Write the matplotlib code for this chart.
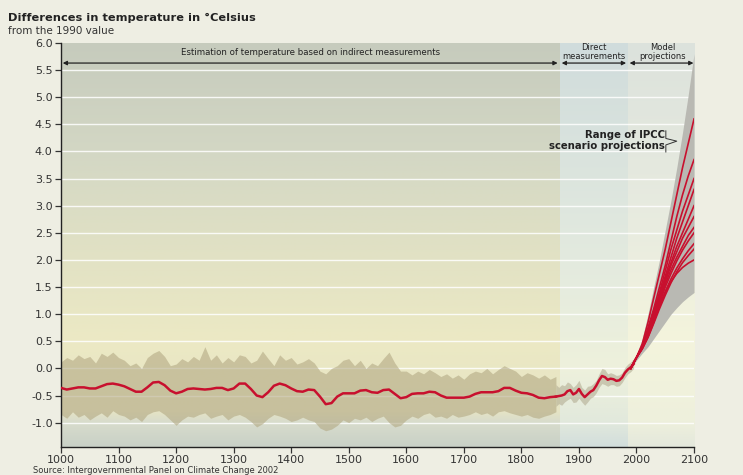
import numpy as np
import matplotlib
matplotlib.use("Agg")
import matplotlib.pyplot as plt
from matplotlib.colors import LinearSegmentedColormap

# smoothed reconstruction (proxy data), every 10 years
recon_years = list(range(1000, 1870, 10))
recon_temp = [-0.36, -0.39, -0.37, -0.35, -0.35, -0.37, -0.37, -0.33, -0.29, -0.28,
              -0.30, -0.33, -0.38, -0.43, -0.43, -0.35, -0.26, -0.25, -0.31, -0.41,
              -0.46, -0.43, -0.38, -0.37, -0.38, -0.39, -0.38, -0.36, -0.36, -0.40,
              -0.37, -0.28, -0.28, -0.38, -0.50, -0.53, -0.44, -0.32, -0.28, -0.31,
              -0.37, -0.42, -0.43, -0.39, -0.40, -0.52, -0.66, -0.64, -0.52, -0.46,
              -0.46, -0.46, -0.41, -0.40, -0.44, -0.45, -0.40, -0.39, -0.47, -0.55,
              -0.53, -0.47, -0.46, -0.46, -0.43, -0.44, -0.50, -0.54, -0.54, -0.54,
              -0.54, -0.52, -0.47, -0.44, -0.44, -0.44, -0.42, -0.36, -0.36, -0.41,
              -0.45, -0.46, -0.49, -0.54, -0.55, -0.53, -0.52]
recon_hi = [0.12, 0.20, 0.15, 0.25, 0.18, 0.22, 0.10, 0.28, 0.22, 0.30,
            0.20, 0.15, 0.05, 0.10, 0.00, 0.20, 0.28, 0.33, 0.22, 0.05,
            0.08, 0.18, 0.12, 0.22, 0.15, 0.40, 0.15, 0.25, 0.10, 0.20,
            0.12, 0.25, 0.22, 0.10, 0.15, 0.32, 0.18, 0.05, 0.25, 0.15,
            0.20, 0.08, 0.12, 0.18, 0.10, -0.05, -0.10, 0.00, 0.05, 0.15,
            0.18, 0.05, 0.15, 0.00, 0.10, 0.05, 0.18, 0.30, 0.10, -0.05,
            -0.05, -0.12, -0.05, -0.10, -0.02, -0.08, -0.15, -0.10, -0.18, -0.12,
            -0.20, -0.10, -0.05, -0.08, 0.00, -0.10, -0.02, 0.05, 0.00, -0.05,
            -0.15, -0.08, -0.12, -0.18, -0.12, -0.20, -0.15]
recon_lo = [-0.85, -0.92, -0.80, -0.90, -0.85, -0.95, -0.88, -0.82, -0.90, -0.78,
            -0.85, -0.88, -0.95, -0.90, -0.98, -0.85, -0.80, -0.78, -0.85, -0.95,
            -1.05, -0.95, -0.88, -0.90, -0.85, -0.82, -0.92, -0.88, -0.85, -0.95,
            -0.88, -0.85, -0.90, -0.98, -1.08, -1.02, -0.92, -0.85, -0.88, -0.92,
            -0.98, -0.95, -0.90, -0.95, -0.98, -1.10, -1.15, -1.12, -1.05, -0.95,
            -1.00, -0.92, -0.95, -0.90, -0.98, -0.92, -0.88, -1.00, -1.08, -1.05,
            -0.95, -0.88, -0.92, -0.85, -0.82, -0.90, -0.88, -0.92, -0.85, -0.90,
            -0.88, -0.85, -0.80, -0.85, -0.82, -0.88, -0.80, -0.78, -0.82, -0.85,
            -0.88, -0.85, -0.90, -0.92, -0.88, -0.85, -0.80]

# direct (thermometer) measurements, every 5 years
instr_years = list(range(1860, 2000, 5))
instr_temp = [-0.52, -0.51, -0.50, -0.48, -0.42, -0.40, -0.48, -0.45, -0.38, -0.47,
              -0.53, -0.48, -0.43, -0.40, -0.32, -0.22, -0.14, -0.16, -0.21, -0.19,
              -0.20, -0.23, -0.22, -0.17, -0.08, -0.02, 0.02, 0.08]
instr_hi = [-0.30, -0.35, -0.30, -0.32, -0.25, -0.28, -0.35, -0.30, -0.22, -0.35,
            -0.40, -0.33, -0.32, -0.28, -0.22, -0.10, 0.00, -0.02, -0.10, -0.08,
            -0.10, -0.13, -0.12, -0.08, 0.02, 0.08, 0.12, 0.18]
instr_lo = [-0.70, -0.65, -0.68, -0.62, -0.58, -0.55, -0.63, -0.62, -0.55, -0.62,
            -0.68, -0.62, -0.55, -0.52, -0.45, -0.35, -0.28, -0.30, -0.33, -0.30,
            -0.30, -0.33, -0.32, -0.26, -0.17, -0.10, -0.06, 0.00]

# IPCC scenario projections, every 10 years from 1990
proj_years = list(range(1990, 2110, 10))
scenarios = [
    [0.0, 0.20, 0.45, 0.85, 1.30, 1.75, 2.20, 2.70, 3.20, 3.70, 4.15, 4.60],
    [0.0, 0.20, 0.42, 0.75, 1.10, 1.50, 1.90, 2.35, 2.80, 3.20, 3.55, 3.85],
    [0.0, 0.20, 0.40, 0.70, 1.05, 1.40, 1.80, 2.20, 2.55, 2.90, 3.20, 3.50],
    [0.0, 0.20, 0.40, 0.68, 1.00, 1.35, 1.70, 2.05, 2.40, 2.70, 3.00, 3.30],
    [0.0, 0.20, 0.40, 0.65, 0.95, 1.30, 1.65, 1.95, 2.25, 2.50, 2.75, 3.00],
    [0.0, 0.20, 0.38, 0.62, 0.92, 1.25, 1.60, 1.90, 2.15, 2.40, 2.60, 2.80],
    [0.0, 0.20, 0.38, 0.60, 0.90, 1.22, 1.55, 1.82, 2.05, 2.25, 2.45, 2.60],
    [0.0, 0.20, 0.37, 0.60, 0.88, 1.20, 1.50, 1.75, 1.98, 2.18, 2.35, 2.50],
    [0.0, 0.20, 0.36, 0.58, 0.85, 1.15, 1.42, 1.65, 1.85, 2.02, 2.17, 2.30],
    [0.0, 0.20, 0.36, 0.57, 0.83, 1.10, 1.35, 1.58, 1.78, 1.95, 2.08, 2.20],
    [0.0, 0.20, 0.38, 0.60, 0.88, 1.15, 1.40, 1.60, 1.75, 1.86, 1.94, 2.00],
]
env_hi = [0.0, 0.25, 0.55, 1.00, 1.50, 2.00, 2.55, 3.10, 3.70, 4.35, 5.05, 5.80]
env_lo = [0.0, 0.15, 0.28, 0.40, 0.55, 0.70, 0.85, 1.00, 1.12, 1.23, 1.32, 1.40]

y_ticks = [-1.0, -0.5, 0.0, 0.5, 1.0, 1.5, 2.0, 2.5, 3.0, 3.5, 4.0, 4.5, 5.0, 5.5, 6.0]
x_ticks = list(range(1000, 2200, 100))

YMIN, YMAX = -1.45, 6.0
RED = "#c8102e"


def vertical_gradient(ax, x0, x1, stops):
    # stops: (value, colour) pairs, ascending
    cmap = LinearSegmentedColormap.from_list(
        "bg", [((v - YMIN) / (YMAX - YMIN), c) for v, c in stops])
    grad = np.linspace(0, 1, 256).reshape(-1, 1)
    ax.imshow(grad, extent=[x0, x1, YMIN, YMAX], origin="lower",
              aspect="auto", cmap=cmap, zorder=0, interpolation="bilinear")


fig = plt.figure(figsize=(7.43, 4.75), dpi=100)
fig.patch.set_facecolor("#eeeee3")
ax = fig.add_axes([0.0821, 0.0589, 0.852, 0.8506])
ax.set_facecolor("#eeeee3")

# background panels
vertical_gradient(ax, 1000, 1867, [(YMIN, "#c9d1c7"), (-1.0, "#d8dccc"),
                                   (-0.8, "#e6e4c4"), (0.5, "#ece9c4"),
                                   (2.0, "#e2e2c4"), (4.0, "#d3d7c4"),
                                   (YMAX, "#c6cbbd")])
vertical_gradient(ax, 1867, 1985, [(YMIN, "#d2dedc"), (-1.0, "#e2e9dc"),
                                   (0.0, "#eef1dc"), (2.0, "#e3eadf"),
                                   (YMAX, "#d0dcdc")])
vertical_gradient(ax, 1985, 2100, [(YMIN, "#e4e8dc"), (-1.0, "#eef0dc"),
                                   (0.5, "#f4f4dc"), (2.5, "#e9ece0"),
                                   (YMAX, "#dce2dc")])

for yv in y_ticks[:-1]:
    ax.axhline(yv, color="white", lw=1.0, alpha=0.85, zorder=1)

# uncertainty bands
ax.fill_between(recon_years, recon_lo, recon_hi, color="#b3a983", alpha=0.6,
                lw=0, zorder=2)
ax.fill_between(instr_years, instr_lo, instr_hi, color="#b3ad93", alpha=0.6,
                lw=0, zorder=2)
ax.fill_between(proj_years, env_lo, env_hi, color="#b9b9b3", lw=0, zorder=2)

# red curves
ax.plot(recon_years, recon_temp, color=RED, lw=1.8, zorder=4)
ax.plot(instr_years, instr_temp, color=RED, lw=1.8, zorder=4)
for s in scenarios:
    ax.plot(proj_years, s, color=RED, lw=1.2, zorder=4)

ax.set_xlim(1000, 2100)
ax.set_ylim(YMIN, YMAX)
ax.set_xticks(x_ticks)
ax.set_yticks(y_ticks)
ax.set_yticklabels(["%.1f" % v for v in y_ticks])
ax.tick_params(labelsize=8, colors="#333333", length=4, width=0.9, pad=2)
for side in ["top", "right"]:
    ax.spines[side].set_visible(False)
for side in ["left", "bottom"]:
    ax.spines[side].set_color("#222222")
    ax.spines[side].set_linewidth(1.0)

# period arrows
arrow = dict(arrowstyle="<|-|>", color="#222222", lw=0.9, mutation_scale=6,
             shrinkA=0, shrinkB=0)
ax.annotate("", xy=(1003, 5.63), xytext=(1863, 5.63), arrowprops=arrow, zorder=5)
ax.annotate("", xy=(1870, 5.63), xytext=(1982, 5.63), arrowprops=arrow, zorder=5)
ax.annotate("", xy=(1988, 5.63), xytext=(2099, 5.63), arrowprops=arrow, zorder=5)
ax.text(1433, 5.82, "Estimation of temperature based on indirect measurements",
        ha="center", va="center", fontsize=6.2, color="#222222")
ax.text(1926, 5.83, "Direct\nmeasurements", ha="center", va="center",
        fontsize=6.0, color="#222222", linespacing=0.95)
ax.text(2045, 5.83, "Model\nprojections", ha="center", va="center",
        fontsize=6.0, color="#222222", linespacing=0.95)

ax.text(2049, 4.2, "Range of IPCC\nscenario projections", ha="right",
        va="center", fontsize=7.3, fontweight="bold", color="#222222",
        linespacing=1.05)
ax.plot([2051, 2051, 2070, 2051, 2051], [4.38, 4.24, 4.19, 4.12, 3.99],
        color="#333333", lw=0.7, zorder=5)

fig.text(0.011, 0.962, "Differences in temperature in \u00b0Celsius",
         fontsize=8.2, fontweight="bold", color="#222222", va="center")
fig.text(0.011, 0.935, "from the 1990 value", fontsize=7.5, color="#333333",
         va="center")
fig.text(0.045, 0.0, "Source: Intergovernmental Panel on Climate Change 2002",
         fontsize=6, color="#333333", va="bottom")

fig.savefig("out.png", dpi=100, facecolor=fig.get_facecolor())
